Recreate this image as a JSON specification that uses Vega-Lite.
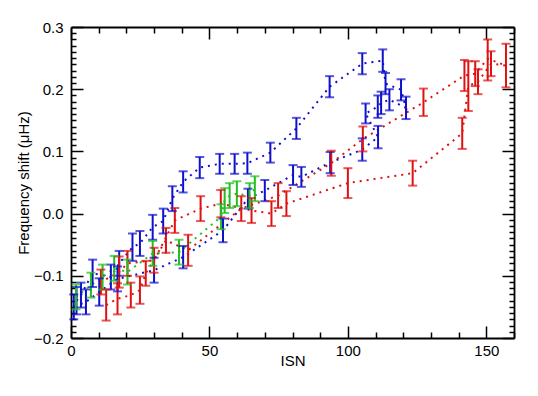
{
  "$schema": "https://vega.github.io/schema/vega-lite/v6.json",
  "width": 443,
  "height": 311,
  "autosize": {"type": "none"},
  "padding": {"left": 71, "top": 27, "right": 24, "bottom": 58},
  "background": "white",
  "config": {
    "view": {"stroke": null},
    "font": "Liberation Sans",
    "axis": {
      "grid": false,
      "labelFlush": false,
      "labelOverlap": false,
      "domainColor": "black",
      "domainWidth": 1.8,
      "tickColor": "black",
      "tickWidth": 1.5,
      "labelColor": "black",
      "titleColor": "black",
      "labelFont": "Liberation Sans",
      "titleFont": "Liberation Sans",
      "labelFontSize": 15,
      "titleFontSize": 15,
      "titleFontWeight": "normal"
    }
  },
  "data": {
    "values": [
      {"s": "B", "i": 1, "x": 2.0, "y": -0.140, "lo": -0.162, "hi": -0.118},
      {"s": "B", "i": 2, "x": 3.6, "y": -0.131, "lo": -0.151, "hi": -0.111},
      {"s": "B", "i": 3, "x": 7.8, "y": -0.096, "lo": -0.118, "hi": -0.074},
      {"s": "B", "i": 4, "x": 14.4, "y": -0.102, "lo": -0.122, "hi": -0.082},
      {"s": "B", "i": 5, "x": 17.4, "y": -0.080, "lo": -0.100, "hi": -0.060},
      {"s": "B", "i": 6, "x": 22.2, "y": -0.054, "lo": -0.076, "hi": -0.032},
      {"s": "B", "i": 7, "x": 24.9, "y": -0.048, "lo": -0.068, "hi": -0.028},
      {"s": "B", "i": 8, "x": 29.5, "y": -0.022, "lo": -0.042, "hi": -0.002},
      {"s": "B", "i": 9, "x": 33.3, "y": -0.012, "lo": -0.032, "hi": 0.008},
      {"s": "B", "i": 10, "x": 36.6, "y": 0.024, "lo": 0.004, "hi": 0.044},
      {"s": "B", "i": 11, "x": 40.5, "y": 0.051, "lo": 0.034, "hi": 0.068},
      {"s": "B", "i": 12, "x": 46.5, "y": 0.074, "lo": 0.057, "hi": 0.091},
      {"s": "B", "i": 13, "x": 53.7, "y": 0.080, "lo": 0.064, "hi": 0.096},
      {"s": "B", "i": 14, "x": 59.1, "y": 0.080, "lo": 0.064, "hi": 0.096},
      {"s": "B", "i": 15, "x": 63.7, "y": 0.081, "lo": 0.064, "hi": 0.098},
      {"s": "B", "i": 16, "x": 72.0, "y": 0.098, "lo": 0.082, "hi": 0.114},
      {"s": "B", "i": 17, "x": 81.4, "y": 0.137, "lo": 0.120, "hi": 0.154},
      {"s": "B", "i": 18, "x": 93.4, "y": 0.204, "lo": 0.187, "hi": 0.221},
      {"s": "B", "i": 19, "x": 105.2, "y": 0.241, "lo": 0.224, "hi": 0.258},
      {"s": "B", "i": 20, "x": 112.6, "y": 0.246, "lo": 0.228, "hi": 0.264},
      {"s": "B", "i": 21, "x": 113.6, "y": 0.209, "lo": 0.192, "hi": 0.226},
      {"s": "B", "i": 22, "x": 119.2, "y": 0.199, "lo": 0.182, "hi": 0.216},
      {"s": "B", "i": 23, "x": 121.0, "y": 0.170, "lo": 0.152, "hi": 0.188},
      {"s": "B", "i": 24, "x": 115.0, "y": 0.183, "lo": 0.166, "hi": 0.200},
      {"s": "B", "i": 25, "x": 112.0, "y": 0.178, "lo": 0.160, "hi": 0.196},
      {"s": "B", "i": 26, "x": 110.8, "y": 0.172, "lo": 0.154, "hi": 0.190},
      {"s": "B", "i": 27, "x": 106.4, "y": 0.161, "lo": 0.145, "hi": 0.177},
      {"s": "B", "i": 28, "x": 110.9, "y": 0.123, "lo": 0.105, "hi": 0.141},
      {"s": "B", "i": 29, "x": 105.2, "y": 0.103, "lo": 0.085, "hi": 0.121},
      {"s": "B", "i": 30, "x": 93.6, "y": 0.082, "lo": 0.065, "hi": 0.099},
      {"s": "B", "i": 31, "x": 83.2, "y": 0.059, "lo": 0.043, "hi": 0.075},
      {"s": "B", "i": 32, "x": 80.2, "y": 0.062, "lo": 0.046, "hi": 0.078},
      {"s": "B", "i": 33, "x": 70.0, "y": 0.037, "lo": 0.020, "hi": 0.054},
      {"s": "B", "i": 34, "x": 63.9, "y": 0.024, "lo": 0.008, "hi": 0.040},
      {"s": "B", "i": 35, "x": 54.9, "y": -0.027, "lo": -0.046, "hi": -0.008},
      {"s": "B", "i": 36, "x": 40.5, "y": -0.070, "lo": -0.088, "hi": -0.052},
      {"s": "B", "i": 37, "x": 30.0, "y": -0.091, "lo": -0.111, "hi": -0.071},
      {"s": "B", "i": 38, "x": 16.8, "y": -0.105, "lo": -0.125, "hi": -0.085},
      {"s": "B", "i": 39, "x": 10.2, "y": -0.126, "lo": -0.148, "hi": -0.104},
      {"s": "B", "i": 40, "x": 5.4, "y": -0.142, "lo": -0.162, "hi": -0.122},
      {"s": "B", "i": 41, "x": 1.0, "y": -0.150, "lo": -0.170, "hi": -0.130},

      {"s": "R", "i": 1, "x": 12.7, "y": -0.147, "lo": -0.172, "hi": -0.122},
      {"s": "R", "i": 2, "x": 16.8, "y": -0.137, "lo": -0.162, "hi": -0.112},
      {"s": "R", "i": 3, "x": 21.6, "y": -0.131, "lo": -0.151, "hi": -0.111},
      {"s": "R", "i": 4, "x": 24.9, "y": -0.123, "lo": -0.145, "hi": -0.101},
      {"s": "R", "i": 5, "x": 27.0, "y": -0.096, "lo": -0.116, "hi": -0.076},
      {"s": "R", "i": 6, "x": 34.3, "y": -0.043, "lo": -0.063, "hi": -0.023},
      {"s": "R", "i": 7, "x": 42.3, "y": -0.059, "lo": -0.084, "hi": -0.034},
      {"s": "R", "i": 8, "x": 61.5, "y": 0.008, "lo": -0.012, "hi": 0.028},
      {"s": "R", "i": 9, "x": 74.8, "y": 0.029, "lo": 0.009, "hi": 0.049},
      {"s": "R", "i": 10, "x": 94.0, "y": 0.081, "lo": 0.061, "hi": 0.101},
      {"s": "R", "i": 11, "x": 105.4, "y": 0.120, "lo": 0.100, "hi": 0.140},
      {"s": "R", "i": 12, "x": 127.3, "y": 0.179, "lo": 0.157, "hi": 0.201},
      {"s": "R", "i": 13, "x": 142.1, "y": 0.222, "lo": 0.197, "hi": 0.247},
      {"s": "R", "i": 14, "x": 146.0, "y": 0.225, "lo": 0.205, "hi": 0.245},
      {"s": "R", "i": 15, "x": 150.5, "y": 0.249, "lo": 0.214, "hi": 0.280},
      {"s": "R", "i": 16, "x": 157.1, "y": 0.238, "lo": 0.203, "hi": 0.273},
      {"s": "R", "i": 17, "x": 151.7, "y": 0.241, "lo": 0.221, "hi": 0.261},
      {"s": "R", "i": 18, "x": 147.0, "y": 0.212, "lo": 0.192, "hi": 0.232},
      {"s": "R", "i": 19, "x": 143.5, "y": 0.205, "lo": 0.165, "hi": 0.245},
      {"s": "R", "i": 20, "x": 141.3, "y": 0.129, "lo": 0.104, "hi": 0.154},
      {"s": "R", "i": 21, "x": 123.4, "y": 0.065, "lo": 0.045, "hi": 0.085},
      {"s": "R", "i": 22, "x": 100.0, "y": 0.049, "lo": 0.025, "hi": 0.073},
      {"s": "R", "i": 23, "x": 77.8, "y": 0.016, "lo": -0.004, "hi": 0.036},
      {"s": "R", "i": 24, "x": 72.4, "y": 0.000, "lo": -0.020, "hi": 0.020},
      {"s": "R", "i": 25, "x": 65.2, "y": 0.005, "lo": -0.015, "hi": 0.025},
      {"s": "R", "i": 26, "x": 54.1, "y": 0.016, "lo": -0.006, "hi": 0.038},
      {"s": "R", "i": 27, "x": 46.8, "y": 0.008, "lo": -0.012, "hi": 0.028},
      {"s": "R", "i": 28, "x": 37.5, "y": -0.011, "lo": -0.031, "hi": 0.009},
      {"s": "R", "i": 29, "x": 30.0, "y": -0.075, "lo": -0.095, "hi": -0.055},
      {"s": "R", "i": 30, "x": 20.4, "y": -0.080, "lo": -0.100, "hi": -0.060},
      {"s": "R", "i": 31, "x": 17.4, "y": -0.094, "lo": -0.119, "hi": -0.069},
      {"s": "R", "i": 32, "x": 10.8, "y": -0.110, "lo": -0.130, "hi": -0.090},

      {"s": "G", "i": 1, "x": 1.8, "y": -0.134, "lo": -0.154, "hi": -0.114},
      {"s": "G", "i": 2, "x": 7.2, "y": -0.115, "lo": -0.135, "hi": -0.095},
      {"s": "G", "i": 3, "x": 11.4, "y": -0.102, "lo": -0.122, "hi": -0.082},
      {"s": "G", "i": 4, "x": 15.6, "y": -0.088, "lo": -0.108, "hi": -0.068},
      {"s": "G", "i": 5, "x": 20.4, "y": -0.094, "lo": -0.114, "hi": -0.074},
      {"s": "G", "i": 6, "x": 29.5, "y": -0.064, "lo": -0.084, "hi": -0.044},
      {"s": "G", "i": 7, "x": 39.0, "y": -0.062, "lo": -0.082, "hi": -0.042},
      {"s": "G", "i": 8, "x": 54.2, "y": -0.005, "lo": -0.025, "hi": 0.015},
      {"s": "G", "i": 9, "x": 55.5, "y": 0.021, "lo": 0.001, "hi": 0.041},
      {"s": "G", "i": 10, "x": 57.3, "y": 0.029, "lo": 0.009, "hi": 0.049},
      {"s": "G", "i": 11, "x": 59.9, "y": 0.032, "lo": 0.012, "hi": 0.052},
      {"s": "G", "i": 12, "x": 64.5, "y": 0.029, "lo": 0.009, "hi": 0.049},
      {"s": "G", "i": 13, "x": 66.4, "y": 0.040, "lo": 0.020, "hi": 0.060}
    ]
  },
  "resolve": {"axis": {"x": "independent", "y": "independent"}},
  "layer": [
    {
      "mark": {"type": "line", "strokeDash": [2, 5], "strokeWidth": 2, "clip": true},
      "encoding": {
        "x": {"field": "x", "type": "quantitative", "scale": {"domain": [0, 160], "nice": false, "zero": false},
              "axis": {"orient": "bottom", "title": "ISN", "values": [0, 50, 100, 150], "tickSize": -12, "labelPadding": 17, "titlePadding": -5, "format": "d"}},
        "y": {"field": "y", "type": "quantitative", "scale": {"domain": [-0.2, 0.3], "nice": false, "zero": false},
              "axis": {"orient": "left", "title": "Frequency shift (μHz)", "values": [-0.2, -0.1, 0, 0.1, 0.2, 0.3], "format": ".1f", "tickSize": -12, "labelPadding": 20, "titlePadding": 2}},
        "color": {"field": "s", "type": "nominal", "scale": {"domain": ["B", "R", "G"], "range": ["#1010cc", "#e01010", "#20c020"]}, "legend": null},
        "detail": {"field": "s"},
        "order": {"field": "i", "type": "quantitative"}
      }
    },
    {
      "mark": {"type": "rule", "strokeWidth": 2},
      "encoding": {
        "x": {"field": "x", "type": "quantitative",
              "axis": {"orient": "top", "title": null, "labels": false, "values": [0, 50, 100, 150], "tickSize": -12}},
        "y": {"field": "lo", "type": "quantitative",
              "axis": {"orient": "right", "title": null, "labels": false, "values": [-0.2, -0.1, 0, 0.1, 0.2, 0.3], "tickSize": -12}},
        "y2": {"field": "hi"},
        "color": {"field": "s", "type": "nominal", "legend": null}
      }
    },
    {
      "mark": {"type": "tick", "orient": "horizontal", "size": 9, "thickness": 2},
      "encoding": {
        "x": {"field": "x", "type": "quantitative",
              "axis": {"orient": "bottom", "title": null, "labels": false, "domain": false, "values": [10, 20, 30, 40, 60, 70, 80, 90, 110, 120, 130, 140, 160], "tickSize": -6}},
        "y": {"field": "lo", "type": "quantitative",
              "axis": {"orient": "left", "title": null, "labels": false, "domain": false, "values": [-0.19, -0.18, -0.17, -0.16, -0.15, -0.14, -0.13, -0.12, -0.11, -0.09, -0.08, -0.07, -0.06, -0.05, -0.04, -0.03, -0.02, -0.01, 0.01, 0.02, 0.03, 0.04, 0.05, 0.06, 0.07, 0.08, 0.09, 0.11, 0.12, 0.13, 0.14, 0.15, 0.16, 0.17, 0.18, 0.19, 0.21, 0.22, 0.23, 0.24, 0.25, 0.26, 0.27, 0.28, 0.29], "tickSize": -5}},
        "color": {"field": "s", "type": "nominal", "legend": null}
      }
    },
    {
      "mark": {"type": "tick", "orient": "horizontal", "size": 9, "thickness": 2},
      "encoding": {
        "x": {"field": "x", "type": "quantitative",
              "axis": {"orient": "top", "title": null, "labels": false, "domain": false, "values": [10, 20, 30, 40, 60, 70, 80, 90, 110, 120, 130, 140, 160], "tickSize": -6}},
        "y": {"field": "hi", "type": "quantitative",
              "axis": {"orient": "right", "title": null, "labels": false, "domain": false, "values": [-0.19, -0.18, -0.17, -0.16, -0.15, -0.14, -0.13, -0.12, -0.11, -0.09, -0.08, -0.07, -0.06, -0.05, -0.04, -0.03, -0.02, -0.01, 0.01, 0.02, 0.03, 0.04, 0.05, 0.06, 0.07, 0.08, 0.09, 0.11, 0.12, 0.13, 0.14, 0.15, 0.16, 0.17, 0.18, 0.19, 0.21, 0.22, 0.23, 0.24, 0.25, 0.26, 0.27, 0.28, 0.29], "tickSize": -5}},
        "color": {"field": "s", "type": "nominal", "legend": null}
      }
    }
  ]
}
